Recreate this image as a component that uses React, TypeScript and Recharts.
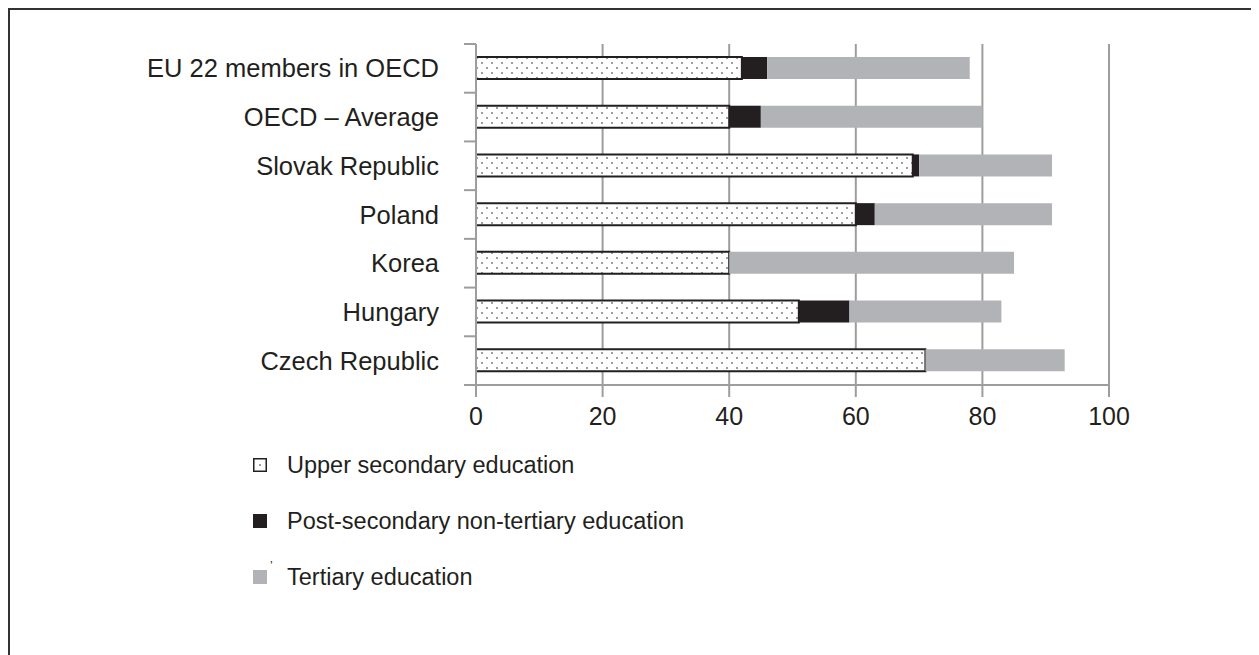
import { Bar, BarChart, CartesianGrid, XAxis, YAxis } from 'recharts';

// Attainment by level, % of adults (top to bottom as drawn)
const countries = [
  'EU 22 members in OECD',
  'OECD – Average',
  'Slovak Republic',
  'Poland',
  'Korea',
  'Hungary',
  'Czech Republic',
];
const upperSecondary = [42, 40, 69, 60, 40, 51, 71];
const postSecondary = [4, 5, 1, 3, 0, 8, 0];
const tertiary = [32, 35, 21, 28, 45, 24, 22];
const xTicks = [0, 20, 40, 60, 80, 100];

const seriesNames = [
  'Upper secondary education',
  'Post-secondary non-tertiary education',
  'Tertiary education',
];

const data = countries.map((name, i) => ({
  name,
  upper: upperSecondary[i],
  post: postSecondary[i],
  tertiary: tertiary[i],
}));

const FONT = '"Liberation Sans", Arial, sans-serif';
const TEXT = '#231f20';
const DARK = '#231f20';
const GREY = '#b1b3b6';
const GRID = '#9d9d9d';

// Category label plus the small ticks on the band edges above/below it
function CountryTick(props: any) {
  const { x, y, payload, index, visibleTicksCount } = props;
  const half = payload?.offset ?? 0;
  const last = index === (visibleTicksCount ?? countries.length) - 1;
  return (
    <g>
      <line x1={x - 12} x2={x} y1={y - half} y2={y - half} stroke={GRID} strokeWidth={2} />
      {last && <line x1={x - 12} x2={x} y1={y + half} y2={y + half} stroke={GRID} strokeWidth={2} />}
      <text x={x - 37} y={y} dy="0.355em" textAnchor="end" fill={TEXT} fontSize={25.5} fontFamily={FONT}>
        {payload.value}
      </text>
    </g>
  );
}

function LegendIcon({ index }: { index: number }) {
  if (index === 0) {
    return (
      <svg width={14} height={14}>
        <rect x={0.75} y={0.75} width={12.5} height={12.5} fill="#fff" stroke={DARK} strokeWidth={1.5} />
        <rect x={6} y={6} width={2} height={2} fill={GRID} />
      </svg>
    );
  }
  return (
    <svg width={14} height={14}>
      <rect x={0} y={0} width={14} height={14} fill={index === 1 ? DARK : GREY} />
    </svg>
  );
}

export default function App() {
  return (
    <div
      style={{
        position: 'relative',
        width: 1251,
        height: 647,
        boxSizing: 'border-box',
        borderTop: '2px solid #333',
        borderLeft: '2px solid #333',
        fontFamily: FONT,
      }}
    >
      <style>{'body{overflow:hidden}'}</style>
      <BarChart
        width={1249}
        height={645}
        data={data}
        layout="vertical"
        margin={{ top: 34, right: 150, left: 0, bottom: 230 }}
        barSize={22}
      >
        <defs>
          <pattern id="dots" width={10} height={10} patternUnits="userSpaceOnUse">
            <rect width={10} height={10} fill="#fff" />
            <rect x={1} y={2} width={2} height={2} fill={GRID} />
            <rect x={6} y={7} width={2} height={2} fill={GRID} />
          </pattern>
        </defs>
        <CartesianGrid horizontal={false} stroke={GRID} strokeWidth={2} />
        <XAxis
          type="number"
          domain={[0, 100]}
          ticks={xTicks}
          height={40}
          axisLine={{ stroke: GRID, strokeWidth: 2 }}
          tickLine={{ stroke: GRID, strokeWidth: 2 }}
          tickSize={12}
          tickMargin={10}
          tick={{ fill: TEXT, fontSize: 25, fontFamily: FONT }}
        />
        <YAxis
          type="category"
          dataKey="name"
          width={466}
          axisLine={{ stroke: GRID, strokeWidth: 2 }}
          tickLine={false}
          tickSize={0}
          tickMargin={0}
          interval={0}
          tick={<CountryTick />}
        />
        <Bar
          dataKey="upper"
          stackId="a"
          fill="url(#dots)"
          stroke={DARK}
          strokeWidth={2}
          isAnimationActive={false}
        />
        <Bar dataKey="post" stackId="a" fill={DARK} isAnimationActive={false} />
        <Bar dataKey="tertiary" stackId="a" fill={GREY} isAnimationActive={false} />
      </BarChart>
      <div style={{ position: 'absolute', left: 243, top: 427, color: TEXT, fontSize: 23.5 }}>
        {seriesNames.map((s, i) => (
          <div key={s} style={{ display: 'flex', alignItems: 'center', height: 56 }}>
            <LegendIcon index={i} />
            <span style={{ width: 17, fontSize: 12, alignSelf: 'flex-start', paddingTop: 10, paddingLeft: 3 }}>
              {i === 2 ? '’' : ''}
            </span>
            <span>{s}</span>
          </div>
        ))}
      </div>
    </div>
  );
}
